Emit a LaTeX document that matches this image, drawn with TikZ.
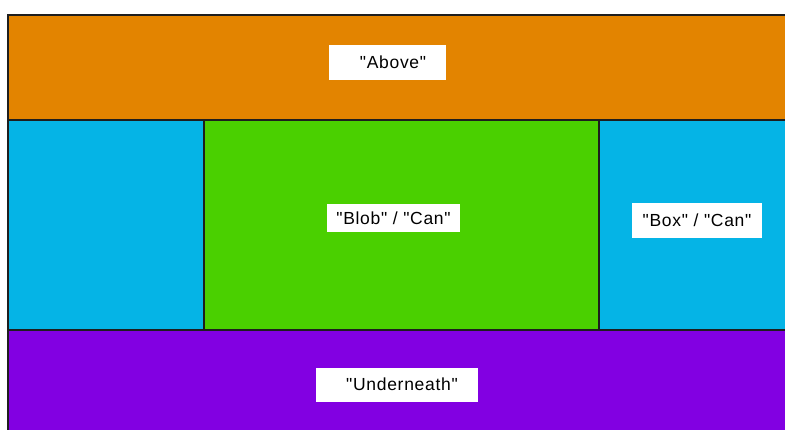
\documentclass[tikz,border=0pt]{standalone}
\usepackage{fontspec}
\newfontfamily\labfont[LetterSpace=4]{Liberation Sans}
\definecolor{cOrange}{RGB}{227,132,0}
\definecolor{cCyan}{RGB}{5,180,230}
\definecolor{cGreen}{RGB}{74,208,0}
\definecolor{cPurple}{RGB}{130,0,226}
\definecolor{cLine}{RGB}{30,30,30}
\tikzset{
  band/.style={draw=cLine, line width=1.2pt},
  lbl/.style={fill=white, draw=none, inner sep=0pt, font=\labfont\fontsize{17.5}{20}\selectfont, text=black}
}
\begin{document}
\begin{tikzpicture}[x=1pt,y=-1pt]
\useasboundingbox (0,0) rectangle (785,430);
\fill[white] (0,0) rectangle (785,430);
% bands
\fill[cOrange] (8,15) rectangle (785,120);
\fill[cCyan] (8,120) rectangle (204,330);
\fill[cGreen] (204,120) rectangle (599,330);
\fill[cCyan] (599,120) rectangle (785,330);
\fill[cPurple] (8,330) rectangle (785,430);
% outlines
\draw[band] (785,15) -- (8,15) -- (8,430);
\draw[band] (8,120) -- (785,120);
\draw[band] (8,330) -- (785,330);
\draw[band] (204,120) -- (204,330);
\draw[band] (599,120) -- (599,330);
% labels
\node[lbl, minimum width=117pt, minimum height=35pt] (above) at (387.5,62.5) {};
\node (abovet) at (393,62) [inner sep=0pt, font=\labfont\fontsize{17.5}{20}\selectfont] {"Above"};
\node[lbl, minimum width=133pt, minimum height=28pt] (blob) at (393.5,218) {"Blob" / "Can"};
\node[lbl, minimum width=130pt, minimum height=35pt] (box) at (697,220.5) {"Box" / "Can"};
\node[lbl, minimum width=162pt, minimum height=34pt] (under) at (397,385) {};
\node (undert) at (402,384) [inner sep=0pt, font=\labfont\fontsize{17.5}{20}\selectfont] {"Underneath"};
\end{tikzpicture}
\end{document}
